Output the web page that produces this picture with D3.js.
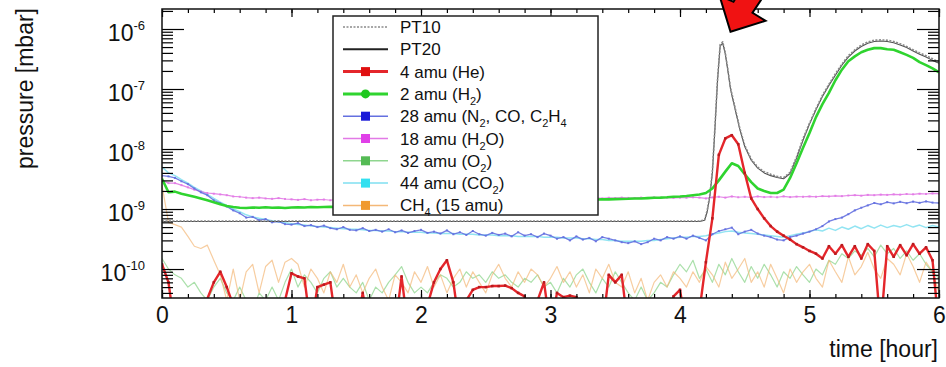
<!DOCTYPE html>
<html>
<head>
<meta charset="utf-8">
<script src="https://cdn.jsdelivr.net/npm/d3@7"></script>
<style>
  body { margin: 0; background: #fff; }
  svg { display: block; font-family: "Liberation Sans", Arial, Helvetica, sans-serif; }
</style>
</head>
<body>
<svg id="chart" width="946" height="367"></svg>
<script>
// ---- data ----
// RGA channels are sampled every 3 minutes
const rgaHours = [
  0, 0.05, 0.1, 0.15, 0.2, 0.25, 0.3, 0.35, 0.4, 0.45, 0.5, 0.55, 0.6, 0.65, 0.7, 0.75, 0.8, 0.85, 0.9, 0.95,
  1, 1.05, 1.1, 1.15, 1.2, 1.25, 1.3, 1.35, 1.4, 1.45, 1.5, 1.55, 1.6, 1.65, 1.7, 1.75, 1.8, 1.85, 1.9, 1.95,
  2, 2.05, 2.1, 2.15, 2.2, 2.25, 2.3, 2.35, 2.4, 2.45, 2.5, 2.55, 2.6, 2.65, 2.7, 2.75, 2.8, 2.85, 2.9, 2.95,
  3, 3.05, 3.1, 3.15, 3.2, 3.25, 3.3, 3.35, 3.4, 3.45, 3.5, 3.55, 3.6, 3.65, 3.7, 3.75, 3.8, 3.85, 3.9, 3.95,
  4, 4.05, 4.1, 4.15, 4.2, 4.25, 4.3, 4.35, 4.4, 4.45, 4.5, 4.55, 4.6, 4.65, 4.7, 4.75, 4.8, 4.85, 4.9, 4.95,
  5, 5.05, 5.1, 5.15, 5.2, 5.25, 5.3, 5.35, 5.4, 5.45, 5.5, 5.55, 5.6, 5.65, 5.7, 5.75, 5.8, 5.85, 5.9, 5.95,
  6
];

// 4 amu (He)  [mbar]  (1e-11 = below the axis range)
const he4 = [
  1.2e-10, 6e-11, 1e-11, 1e-11, 1e-11, 1e-11, 1e-11, 3.2e-11, 6e-11, 9e-11, 5e-11, 2.5e-11, 1e-11, 1e-11, 1e-11, 1e-11, 1e-11, 1e-11, 1e-11, 3e-11,
  8.5e-11, 7.5e-11, 7e-11, 1e-11, 5e-11, 5.5e-11, 6e-11, 1e-11, 1e-11, 1e-11, 1e-11, 4e-11, 1e-11, 1e-11, 1e-11, 1e-11, 1e-11, 7.5e-11, 1e-11, 1e-11,
  1e-11, 2.5e-11, 6e-11, 1e-10, 1.4e-10, 6e-11, 1e-11, 3e-11, 4.5e-11, 5e-11, 5e-11, 5.2e-11, 5.2e-11, 5.3e-11, 4.8e-11, 4e-11, 3.5e-11, 1e-11, 3e-11, 6e-11,
  1e-11, 4e-11, 3.4e-11, 3.6e-11, 3.4e-11, 1e-11, 1e-11, 1e-11, 1e-11, 8e-11, 6e-11, 8e-11, 1e-11, 1e-11, 1e-11, 1e-11, 1e-11, 1e-11, 1e-11, 3.5e-11,
  4.5e-11, 1e-11, 1e-11, 2e-11, 1.3e-10, 7e-10, 8e-9, 1.5e-8, 1.7e-8, 1.2e-8, 4e-9, 1.5e-9, 1.0e-9, 7e-10, 5.2e-10, 4.2e-10, 3.6e-10, 3.1e-10, 2.6e-10, 2.3e-10,
  2.0e-10, 1.8e-10, 1.5e-10, 2.4e-10, 1.8e-10, 2.5e-10, 1.6e-10, 2.4e-10, 1.5e-10, 2.6e-10, 2.0e-10, 1e-11, 2.4e-10, 1.6e-10, 2.5e-10, 1.7e-10, 2.6e-10, 1.8e-10, 2.3e-10, 1.4e-10,
  1e-11
];

// 2 amu (H2)
const h2 = [
  3.2e-9, 1.9e-9, 1.95e-9, 1.8e-9, 1.7e-9, 1.6e-9, 1.5e-9, 1.4e-9, 1.3e-9, 1.2e-9, 1.12e-9, 1.08e-9, 1.05e-9, 1.04e-9, 1.06e-9, 1.05e-9, 1.07e-9, 1.05e-9, 1.06e-9, 1.04e-9,
  1.06e-9, 1.07e-9, 1.06e-9, 1.08e-9, 1.07e-9, 1.08e-9, 1.09e-9, 1.08e-9, 1.1e-9, 1.09e-9, 1.1e-9, 1.11e-9, 1.1e-9, 1.12e-9, 1.12e-9, 1.13e-9, 1.14e-9, 1.13e-9, 1.15e-9, 1.15e-9,
  1.16e-9, 1.17e-9, 1.18e-9, 1.18e-9, 1.2e-9, 1.21e-9, 1.22e-9, 1.22e-9, 1.24e-9, 1.25e-9, 1.26e-9, 1.27e-9, 1.28e-9, 1.29e-9, 1.3e-9, 1.31e-9, 1.32e-9, 1.33e-9, 1.34e-9, 1.35e-9,
  1.36e-9, 1.37e-9, 1.38e-9, 1.4e-9, 1.41e-9, 1.42e-9, 1.43e-9, 1.44e-9, 1.45e-9, 1.45e-9, 1.46e-9, 1.47e-9, 1.48e-9, 1.5e-9, 1.5e-9, 1.52e-9, 1.54e-9, 1.55e-9, 1.57e-9, 1.6e-9,
  1.62e-9, 1.65e-9, 1.7e-9, 1.75e-9, 1.85e-9, 2.2e-9, 3.0e-9, 4.2e-9, 5.8e-9, 5.2e-9, 3.8e-9, 2.8e-9, 2.2e-9, 2.0e-9, 1.85e-9, 1.85e-9, 2.1e-9, 3.3e-9, 5.8e-9, 1.05e-8,
  1.85e-8, 3.4e-8, 5.6e-8, 8.6e-8, 1.4e-7, 2.1e-7, 2.9e-7, 3.5e-7, 4.1e-7, 4.5e-7, 4.8e-7, 4.8e-7, 4.6e-7, 4.5e-7, 4.1e-7, 3.7e-7, 3.3e-7, 2.8e-7, 2.5e-7, 2.2e-7,
  1.9e-7
];

// 28 amu (N2, CO, C2H4)
const n2 = [
  3.6e-9, 3.5e-9, 3.3e-9, 2.9e-9, 2.6e-9, 2.2e-9, 1.9e-9, 1.7e-9, 1.4e-9, 1.25e-9, 1.1e-9, 9.5e-10, 8.5e-10, 7.2e-10, 7.4e-10, 6.5e-10, 6.8e-10, 6.0e-10, 6.2e-10, 5.6e-10,
  5.5e-10, 5.8e-10, 5.2e-10, 5.4e-10, 5.0e-10, 5.3e-10, 4.8e-10, 4.6e-10, 5.0e-10, 4.5e-10, 4.4e-10, 4.8e-10, 4.3e-10, 4.5e-10, 4.2e-10, 4.6e-10, 4.1e-10, 4.4e-10, 4.0e-10, 4.3e-10,
  4.5e-10, 4.0e-10, 4.2e-10, 3.9e-10, 4.4e-10, 3.8e-10, 4.1e-10, 3.7e-10, 4.3e-10, 3.8e-10, 3.6e-10, 4.0e-10, 3.7e-10, 3.9e-10, 3.5e-10, 4.1e-10, 3.6e-10, 3.8e-10, 3.4e-10, 3.9e-10,
  3.6e-10, 3.2e-10, 3.4e-10, 3.0e-10, 3.5e-10, 3.1e-10, 3.3e-10, 2.9e-10, 3.4e-10, 3.2e-10, 3.0e-10, 2.8e-10, 2.7e-10, 2.9e-10, 2.6e-10, 2.8e-10, 3.2e-10, 3.0e-10, 3.4e-10, 3.2e-10,
  3.5e-10, 3.2e-10, 3.6e-10, 3.3e-10, 3.0e-10, 3.8e-10, 4.3e-10, 4.6e-10, 4.9e-10, 3.8e-10, 4.2e-10, 4.5e-10, 3.9e-10, 3.6e-10, 3.4e-10, 3.1e-10, 3.0e-10, 3.4e-10, 3.6e-10, 3.9e-10,
  4.2e-10, 4.6e-10, 5.2e-10, 6.2e-10, 6.8e-10, 7.2e-10, 8.2e-10, 9.5e-10, 1.05e-9, 1.15e-9, 1.26e-9, 1.2e-9, 1.3e-9, 1.24e-9, 1.32e-9, 1.25e-9, 1.33e-9, 1.27e-9, 1.34e-9, 1.28e-9,
  1.26e-9
];

// 18 amu (H2O)
const h2o = [
  3.0e-9, 2.7e-9, 2.7e-9, 2.5e-9, 2.3e-9, 2.1e-9, 1.95e-9, 1.85e-9, 1.8e-9, 1.75e-9, 1.7e-9, 1.62e-9, 1.6e-9, 1.55e-9, 1.52e-9, 1.55e-9, 1.5e-9, 1.48e-9, 1.52e-9, 1.47e-9,
  1.45e-9, 1.42e-9, 1.46e-9, 1.4e-9, 1.43e-9, 1.44e-9, 1.4e-9, 1.45e-9, 1.41e-9, 1.43e-9, 1.4e-9, 1.44e-9, 1.42e-9, 1.45e-9, 1.41e-9, 1.43e-9, 1.46e-9, 1.42e-9, 1.44e-9, 1.45e-9,
  1.46e-9, 1.44e-9, 1.47e-9, 1.45e-9, 1.48e-9, 1.46e-9, 1.47e-9, 1.49e-9, 1.47e-9, 1.5e-9, 1.48e-9, 1.49e-9, 1.5e-9, 1.48e-9, 1.51e-9, 1.5e-9, 1.49e-9, 1.52e-9, 1.5e-9, 1.51e-9,
  1.52e-9, 1.5e-9, 1.53e-9, 1.51e-9, 1.52e-9, 1.54e-9, 1.52e-9, 1.53e-9, 1.5e-9, 1.54e-9, 1.52e-9, 1.55e-9, 1.53e-9, 1.52e-9, 1.55e-9, 1.53e-9, 1.56e-9, 1.54e-9, 1.55e-9, 1.53e-9,
  1.55e-9, 1.54e-9, 1.57e-9, 1.55e-9, 1.5e-9, 1.56e-9, 1.6e-9, 1.55e-9, 1.62e-9, 1.57e-9, 1.6e-9, 1.56e-9, 1.62e-9, 1.58e-9, 1.6e-9, 1.57e-9, 1.63e-9, 1.58e-9, 1.61e-9, 1.6e-9,
  1.62e-9, 1.6e-9, 1.64e-9, 1.62e-9, 1.66e-9, 1.64e-9, 1.68e-9, 1.7e-9, 1.67e-9, 1.72e-9, 1.7e-9, 1.74e-9, 1.72e-9, 1.76e-9, 1.74e-9, 1.78e-9, 1.76e-9, 1.8e-9, 1.78e-9, 1.82e-9,
  1.8e-9
];

// 32 amu (O2)
const o2 = [
  1.5e-10, 1.0e-10, 8e-11, 7e-11, 5e-11, 6e-11, 4e-11, 3e-11, 5e-11, 7e-11, 4e-11, 3e-11, 5e-11, 3e-11, 2e-11, 4e-11, 3e-11, 5e-11, 3e-11, 6e-11,
  1.0e-10, 5e-11, 8e-11, 6e-11, 4e-11, 7e-11, 9e-11, 5e-11, 7e-11, 5e-11, 4e-11, 6e-11, 3e-11, 5e-11, 4e-11, 6e-11, 8e-11, 1.1e-10, 6e-11, 4e-11,
  5e-11, 4e-11, 6e-11, 8e-11, 7e-11, 5e-11, 6e-11, 9e-11, 7e-11, 8e-11, 6e-11, 9e-11, 7e-11, 8e-11, 6e-11, 5e-11, 7e-11, 6e-11, 8e-11, 5e-11,
  6e-11, 4e-11, 7e-11, 5e-11, 8e-11, 1.0e-10, 6e-11, 4e-11, 7e-11, 5e-11, 9e-11, 6e-11, 4e-11, 3e-11, 5e-11, 3e-11, 4e-11, 6e-11, 5e-11, 8e-11,
  1.2e-10, 9e-11, 1.4e-10, 7e-11, 1.0e-10, 6e-11, 1.2e-10, 8e-11, 1.5e-10, 9e-11, 6e-11, 1.1e-10, 7e-11, 1.2e-10, 8e-11, 5e-11, 9e-11, 7e-11, 1.1e-10, 8e-11,
  6e-11, 1.0e-10, 8e-11, 1.4e-10, 1.2e-10, 1.8e-10, 1.5e-10, 2.0e-10, 1.7e-10, 2.2e-10, 1.6e-10, 2.5e-10, 1.8e-10, 2.2e-10, 1.5e-10, 2.0e-10, 1.4e-10, 1.8e-10, 1.2e-10, 9e-11,
  7e-11
];

// 44 amu (CO2)
const co2 = [
  5.0e-9, 4.0e-9, 3.6e-9, 3.1e-9, 2.7e-9, 2.3e-9, 2.0e-9, 1.75e-9, 1.5e-9, 1.3e-9, 1.15e-9, 1.0e-9, 9.0e-10, 8.0e-10, 7.4e-10, 7.0e-10, 6.7e-10, 6.4e-10, 6.1e-10, 5.9e-10,
  5.7e-10, 5.5e-10, 5.4e-10, 5.2e-10, 5.1e-10, 5.0e-10, 4.9e-10, 4.8e-10, 4.7e-10, 4.6e-10, 4.6e-10, 4.5e-10, 4.4e-10, 4.4e-10, 4.3e-10, 4.3e-10, 4.2e-10, 4.2e-10, 4.1e-10, 4.1e-10,
  4.1e-10, 4.0e-10, 4.0e-10, 3.9e-10, 3.9e-10, 3.9e-10, 3.8e-10, 3.8e-10, 3.8e-10, 3.7e-10, 3.7e-10, 3.7e-10, 3.6e-10, 3.6e-10, 3.6e-10, 3.5e-10, 3.5e-10, 3.5e-10, 3.5e-10, 3.4e-10,
  3.4e-10, 3.4e-10, 3.3e-10, 3.3e-10, 3.3e-10, 3.2e-10, 3.2e-10, 3.1e-10, 3.1e-10, 3.0e-10, 3.0e-10, 2.9e-10, 2.9e-10, 2.9e-10, 2.9e-10, 3.0e-10, 3.0e-10, 3.1e-10, 3.2e-10, 3.3e-10,
  3.4e-10, 3.4e-10, 3.5e-10, 3.5e-10, 3.6e-10, 3.8e-10, 4.0e-10, 4.2e-10, 4.3e-10, 4.1e-10, 4.0e-10, 3.9e-10, 3.8e-10, 3.7e-10, 3.6e-10, 3.5e-10, 3.4e-10, 3.6e-10, 3.8e-10, 4.0e-10,
  4.2e-10, 4.5e-10, 4.3e-10, 4.8e-10, 4.4e-10, 5.0e-10, 4.6e-10, 5.2e-10, 4.7e-10, 5.3e-10, 4.8e-10, 5.4e-10, 4.9e-10, 5.3e-10, 5.0e-10, 5.5e-10, 5.0e-10, 5.4e-10, 4.9e-10, 5.3e-10,
  5.0e-10
];

// CH4 (15 amu)
const ch4 = [
  2.5e-9, 6e-10, 5.5e-10, 5e-10, 3.5e-10, 2.4e-10, 2.2e-10, 2.5e-10, 1.4e-10, 8e-11, 3e-11, 1.0e-10, 3e-11, 9e-11, 1.2e-10, 4e-11, 1.1e-10, 1.4e-10, 6e-11, 1.3e-10,
  1.5e-10, 1.2e-10, 5e-11, 1.0e-10, 7e-11, 4e-11, 9e-11, 6e-11, 1.2e-10, 5e-11, 8e-11, 4e-11, 7e-11, 1.0e-10, 5e-11, 3e-11, 8e-11, 6e-11, 4e-11, 9e-11,
  6e-11, 1.1e-10, 5e-11, 8e-11, 4e-11, 7e-11, 1.0e-10, 5e-11, 9e-11, 6e-11, 4e-11, 8e-11, 1.2e-10, 7e-11, 5e-11, 9e-11, 6e-11, 1.0e-10, 8e-11, 5e-11,
  7e-11, 1.1e-10, 6e-11, 9e-11, 5e-11, 8e-11, 4e-11, 1.0e-10, 7e-11, 1.2e-10, 6e-11, 5e-11, 9e-11, 4e-11, 7e-11, 3e-11, 6e-11, 8e-11, 5e-11, 9e-11,
  7e-11, 5e-11, 9e-11, 6e-11, 1.1e-10, 8e-11, 5e-11, 1.3e-10, 7e-11, 1.0e-10, 1.5e-10, 6e-11, 9e-11, 5e-11, 1.2e-10, 7e-11, 4e-11, 1.0e-10, 6e-11, 9e-11,
  1.2e-10, 7e-11, 5e-11, 1.4e-10, 9e-11, 6e-11, 1.6e-10, 8e-11, 1.1e-10, 1.9e-10, 1.0e-10, 7e-11, 1.5e-10, 1.2e-10, 8e-11, 1.8e-10, 1.1e-10, 6e-11, 1.3e-10, 9e-11,
  4e-11
];

// gauges PT10 / PT20 (own time base)
const ptHours = [0, 0.5, 1, 1.5, 2, 2.5, 3, 3.5, 4, 4.15, 4.19, 4.21, 4.23, 4.25, 4.27, 4.29, 4.31, 4.33, 4.35, 4.37, 4.39, 4.42, 4.46,
  4.5, 4.55, 4.6, 4.65, 4.7, 4.75, 4.8, 4.85, 4.9, 4.95, 5, 5.05, 5.1, 5.15, 5.2, 5.25, 5.3, 5.35, 5.4, 5.45, 5.5, 5.55, 5.6, 5.65, 5.7, 5.75, 5.8, 5.85, 5.9, 5.95, 6];
const pt20 = [6.2e-10, 6.2e-10, 6.2e-10, 6.2e-10, 6.2e-10, 6.2e-10, 6.2e-10, 6.2e-10, 6.2e-10, 6.2e-10, 6.5e-10, 9e-10, 1.6e-9, 4e-9, 2.2e-8, 1.4e-7, 5.2e-7, 5.8e-7, 3.8e-7, 2.0e-7, 1.0e-7, 5.2e-8, 2.2e-8,
  1.1e-8, 6.5e-9, 4.8e-9, 4.0e-9, 3.6e-9, 3.35e-9, 3.2e-9, 3.9e-9, 7e-9, 1.4e-8, 2.6e-8, 4.5e-8, 7.5e-8, 1.15e-7, 1.7e-7, 2.5e-7, 3.4e-7, 4.3e-7, 5.1e-7, 5.8e-7, 6.2e-7, 6.3e-7, 6.2e-7, 5.9e-7, 5.4e-7, 4.9e-7, 4.3e-7, 3.8e-7, 3.4e-7, 3.0e-7, 2.7e-7];
const pt10 = [6.3e-10, 6.3e-10, 6.3e-10, 6.3e-10, 6.3e-10, 6.3e-10, 6.3e-10, 6.3e-10, 6.3e-10, 6.3e-10, 6.6e-10, 9.5e-10, 1.7e-9, 4.3e-9, 2.4e-8, 1.5e-7, 5.5e-7, 6.1e-7, 4.0e-7, 2.1e-7, 1.05e-7, 5.5e-8, 2.3e-8,
  1.15e-8, 6.8e-9, 5.0e-9, 4.2e-9, 3.8e-9, 3.5e-9, 3.35e-9, 4.1e-9, 7.4e-9, 1.5e-8, 2.7e-8, 4.7e-8, 7.9e-8, 1.2e-7, 1.8e-7, 2.6e-7, 3.6e-7, 4.5e-7, 5.4e-7, 6.1e-7, 6.5e-7, 6.6e-7, 6.5e-7, 6.2e-7, 5.7e-7, 5.1e-7, 4.5e-7, 4.0e-7, 3.6e-7, 3.2e-7, 2.8e-7];

const legendLabels = ['PT10', 'PT20', '4 amu (He)', '2 amu (H_2)', '28 amu (N_2, CO, C_2H_4', '18 amu (H_2O)', '32 amu (O_2)', '44 amu (CO_2)', 'CH_4 (15 amu)'];
const xTicks = [0, 1, 2, 3, 4, 5, 6];
const yDecades = [-10, -9, -8, -7, -6];

// ---- layout ----
const svg = d3.select('#chart');
const plot = {left: 162, right: 939, top: 9, bottom: 298};

const x = d3.scaleLinear().domain([0, 6]).range([plot.left, plot.right]);
const y = d3.scaleLog().domain([3.29e-11, 2.154e-6]).range([plot.bottom, plot.top]);

svg.append('defs').append('clipPath').attr('id', 'clip')
  .append('rect')
  .attr('x', plot.left).attr('y', plot.top)
  .attr('width', plot.right - plot.left).attr('height', plot.bottom - plot.top);

// series styles, drawn in this order (bottom first)
const series = [
  {vals: o2,  hours: rgaHours, color: '#8fd68f', width: 1.2, opacity: 0.75},
  {vals: ch4, hours: rgaHours, color: '#f4b877', width: 1.2, opacity: 0.7},
  {vals: co2, hours: rgaHours, color: '#7fdff0', width: 1.5, opacity: 0.85},
  {vals: h2o, hours: rgaHours, color: '#e27ae6', width: 1.2, opacity: 0.9, marker: 2},
  {vals: n2,  hours: rgaHours, color: '#6470e0', width: 1.3, opacity: 0.9, marker: 2},
  {vals: pt20, hours: ptHours, color: '#333', width: 1.1, opacity: 0.85},
  {vals: pt10, hours: ptHours, color: '#8a8a8a', width: 1.6, opacity: 1, dash: '2,1.5'},
  {vals: h2,  hours: rgaHours, color: '#2fd42f', width: 2.6, opacity: 1},
  {vals: he4, hours: rgaHours, color: '#e4262b', width: 2.4, opacity: 1, marker: 2.5, markerColor: '#b81a1e'}
];

const line = d3.line()
  .x(d => x(d[0]))
  .y(d => y(d[1]));

const dataG = svg.append('g').attr('clip-path', 'url(#clip)');

series.forEach(s => {
  const pts = s.hours.map((h, i) => [h, s.vals[i]]);
  dataG.append('path')
    .datum(pts)
    .attr('fill', 'none')
    .attr('stroke', s.color)
    .attr('stroke-width', s.width)
    .attr('stroke-opacity', s.opacity)
    .attr('stroke-linejoin', 'round')
    .attr('stroke-dasharray', s.dash || null)
    .attr('d', line);

  if (s.marker) {
    dataG.selectAll(null)
      .data(pts.filter(p => p[1] > 3.3e-11))
      .enter().append('rect')
      .attr('x', d => x(d[0]) - s.marker / 2)
      .attr('y', d => y(d[1]) - s.marker / 2)
      .attr('width', s.marker)
      .attr('height', s.marker)
      .attr('fill', s.markerColor || s.color)
      .attr('fill-opacity', s.opacity);
  }
});

// ---- axes (ROOT style: inward ticks on all four sides) ----
const majorY = yDecades.map(e => Math.pow(10, e));
const minorY = [];
for (let e = -11; e <= -6; e++) {
  for (let m = 2; m <= 9; m++) {
    const v = m * Math.pow(10, e);
    if (v > 3.29e-11 && v < 2.154e-6) minorY.push(v);
  }
}
const minorX = d3.range(0, 6.001, 0.2);

function tickLayer(axis) {
  const g = svg.append('g').call(axis);
  g.select('.domain').remove();
  g.selectAll('line').attr('stroke', '#000').attr('stroke-width', 1.2);
  return g;
}

tickLayer(d3.axisLeft(y).tickValues(minorY).tickSize(-11).tickFormat(''))
  .attr('transform', `translate(${plot.left},0)`);
tickLayer(d3.axisLeft(y).tickValues(majorY).tickSize(-22).tickFormat(''))
  .attr('transform', `translate(${plot.left},0)`);
tickLayer(d3.axisRight(y).tickValues(minorY).tickSize(-11).tickFormat(''))
  .attr('transform', `translate(${plot.right},0)`);
tickLayer(d3.axisRight(y).tickValues(majorY).tickSize(-22).tickFormat(''))
  .attr('transform', `translate(${plot.right},0)`);

tickLayer(d3.axisBottom(x).tickValues(minorX).tickSize(-4).tickFormat(''))
  .attr('transform', `translate(0,${plot.bottom})`);
tickLayer(d3.axisTop(x).tickValues(minorX).tickSize(-4).tickFormat(''))
  .attr('transform', `translate(0,${plot.top})`);
tickLayer(d3.axisTop(x).tickValues(xTicks).tickSize(-8).tickFormat(''))
  .attr('transform', `translate(0,${plot.top})`);

const xAxisG = tickLayer(d3.axisBottom(x).tickValues(xTicks).tickSize(-8).tickPadding(9).tickFormat(d3.format('d')))
  .attr('transform', `translate(0,${plot.bottom})`);
xAxisG.selectAll('text')
  .attr('fill', '#111')
  .style('font-size', '23px')
  .style('font-family', '"Liberation Sans", Arial, sans-serif');

// y labels as 10^n
const yLab = svg.append('g');
yDecades.forEach(e => {
  const t = yLab.append('text')
    .attr('x', 145)
    .attr('y', y(Math.pow(10, e)) + 12)
    .attr('text-anchor', 'end')
    .attr('fill', '#111')
    .style('font-size', '23px');
  t.append('tspan').text('10');
  t.append('tspan')
    .attr('dy', -11)
    .style('font-size', '13px')
    .text('-' + (-e));
});

// frame
svg.append('rect')
  .attr('x', plot.left).attr('y', plot.top)
  .attr('width', plot.right - plot.left).attr('height', plot.bottom - plot.top)
  .attr('fill', 'none').attr('stroke', '#111').attr('stroke-width', 1.5);

// axis titles
svg.append('text')
  .attr('transform', 'translate(33,8) rotate(-90)')
  .attr('text-anchor', 'end')
  .attr('fill', '#111')
  .style('font-size', '23px')
  .text('pressure [mbar]');

svg.append('text')
  .attr('x', 938).attr('y', 357)
  .attr('text-anchor', 'end')
  .attr('fill', '#111')
  .style('font-size', '23px')
  .text('time [hour]');

// ---- legend ----
const legendStyle = [
  {color: '#8a8a8a', width: 1.6, dash: '2,1.5'},
  {color: '#222', width: 2},
  {color: '#e4262b', width: 3, marker: 'square', markerColor: '#e01010'},
  {color: '#2fd42f', width: 3, marker: 'circle', markerColor: '#1fc81f'},
  {color: '#6470e0', width: 1.5, marker: 'square', markerColor: '#1a1ad8'},
  {color: '#e27ae6', width: 1.5, marker: 'square', markerColor: '#e040e8'},
  {color: '#8fd68f', width: 1.5, marker: 'square', markerColor: '#55bb55'},
  {color: '#7fdff0', width: 1.5, marker: 'square', markerColor: '#33e0f0'},
  {color: '#f4b877', width: 1.5, marker: 'square', markerColor: '#f09a30'}
];

const legend = svg.append('g');
legend.append('rect')
  .attr('x', 333).attr('y', 16)
  .attr('width', 265).attr('height', 199)
  .attr('fill', '#fff')
  .attr('stroke', '#222')
  .attr('stroke-width', 1.5);

legendLabels.forEach((label, i) => {
  const cy = 27 + i * 22.3;
  const st = legendStyle[i];
  legend.append('line')
    .attr('x1', 343).attr('x2', 388)
    .attr('y1', cy).attr('y2', cy)
    .attr('stroke', st.color)
    .attr('stroke-width', st.width)
    .attr('stroke-dasharray', st.dash || null);
  if (st.marker === 'square') {
    legend.append('rect')
      .attr('x', 361).attr('y', cy - 4.5)
      .attr('width', 9).attr('height', 9)
      .attr('fill', st.markerColor);
  } else if (st.marker === 'circle') {
    legend.append('circle')
      .attr('cx', 365.5).attr('cy', cy)
      .attr('r', 4.5)
      .attr('fill', st.markerColor);
  }

  const t = legend.append('text')
    .attr('x', 400).attr('y', cy + 6)
    .attr('fill', '#111')
    .style('font-size', '17px');
  // "_2" means subscript 2
  const parts = label.split(/_(\d)/);
  let shifted = false;
  parts.forEach((p, k) => {
    if (p === '') return;
    if (k % 2 === 1) {
      t.append('tspan').attr('dy', 5).style('font-size', '11px').text(p);
      shifted = true;
    } else {
      t.append('tspan').attr('dy', shifted ? -5 : 0).text(p);
      shifted = false;
    }
  });
});

// ---- red arrow pointing at the He peak ----
const arrowTip = {hour: 4.39, mbar: 9e-7};
const tx = x(arrowTip.hour), ty = y(arrowTip.mbar);
const arrowShape = [[0, 0], [35, -11], [22, -19], [46, -55], [24, -65], [3, -30], [-11, -36]];
svg.append('polygon')
  .attr('points', arrowShape.map(p => [tx + p[0], ty + p[1]].join(',')).join(' '))
  .attr('fill', '#f01212')
  .attr('stroke', '#000')
  .attr('stroke-width', 2)
  .attr('stroke-linejoin', 'miter');
</script>
</body>
</html>
